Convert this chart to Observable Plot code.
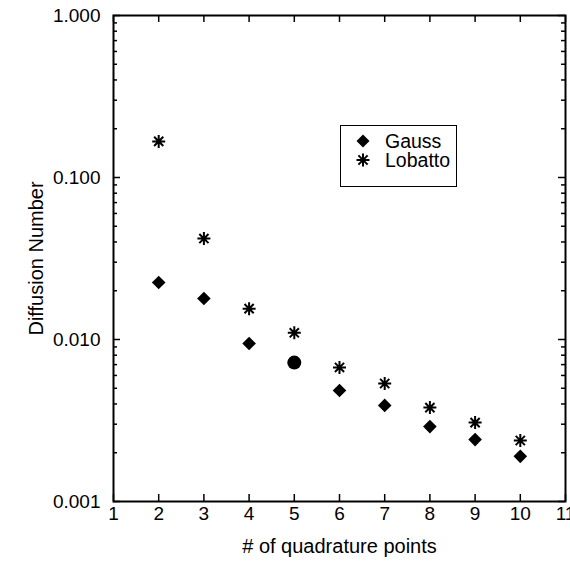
<!DOCTYPE html>
<html><head><meta charset="utf-8">
<script src="https://cdn.jsdelivr.net/npm/d3@7"></script>
<script src="https://cdn.jsdelivr.net/npm/@observablehq/plot@0.6"></script>
<style>
body{margin:0;background:#fff;font-family:"Liberation Sans",Arial,sans-serif;color:#000}
#chart{position:relative;width:570px;height:571px}
#legend{position:absolute;left:340px;top:125px;width:115px;height:60px;border:1.5px solid #000;background:#fff;font-size:19.5px;box-sizing:content-box}
#legend .lbl{position:absolute;display:block;left:44px;height:16px;line-height:16px;white-space:nowrap}
#legend svg{position:absolute;overflow:visible}
</style></head><body><div id="chart"></div>
<script>
// Data
const points  = [2, 3, 4, 5, 6, 7, 8, 9, 10];
const gauss   = [0.0225, 0.0179, 0.00945, 0.0072, 0.00484, 0.00392, 0.0029, 0.00241, 0.0019];
const lobatto = [0.167, 0.042, 0.0155, 0.0110, 0.00672, 0.00535, 0.0038, 0.00307, 0.00238];
const highlightPoint = 5; // Gauss point drawn as a circle
const xTicks = [1, 2, 3, 4, 5, 6, 7, 8, 9, 10, 11];
const yTicks = [0.001, 0.01, 0.1, 1];
const xLabel = "# of quadrature points";
const yLabel = "Diffusion Number";
const seriesNames = ["Gauss", "Lobatto"];

const gaussData = points.map((x, i) => ({x, y: gauss[i]}));
const lobattoData = points.map((x, i) => ({x, y: lobatto[i]}));
const yMinor = d3.scaleLog().domain([0.001, 1]).ticks().filter(v => !yTicks.some(t => Math.abs(t - v) < t * 1e-6));

const W = 570, H = 571, mL = 113, mR = 5, mT = 15, mB = 70;
const fW = W - mL - mR, fH = H - mT - mB;

const diamondSym = {draw(ctx, size) { const r = Math.sqrt(size / Math.PI); ctx.moveTo(0, -r); ctx.lineTo(r, 0); ctx.lineTo(0, r); ctx.lineTo(-r, 0); ctx.closePath(); }};
const asteriskSym = {draw(ctx, size) { const r = Math.sqrt(size / Math.PI); const d = r * Math.SQRT1_2;
  ctx.moveTo(0, -r); ctx.lineTo(0, r); ctx.moveTo(-r, 0); ctx.lineTo(r, 0);
  ctx.moveTo(-d, -d); ctx.lineTo(d, d); ctx.moveTo(-d, d); ctx.lineTo(d, -d); }};

const plot = Plot.plot({
  width: W, height: H,
  marginLeft: mL, marginRight: mR, marginTop: mT, marginBottom: mB,
  style: {fontFamily: "Liberation Sans, Arial, sans-serif", color: "#000", background: "#fff"},
  x: {domain: [1, 11]},
  y: {type: "log", domain: [0.001, 1]},
  marks: [
    Plot.axisX({ticks: xTicks, tickSize: 0, tickPadding: 5, tickFormat: d => String(d), fontSize: 19, label: null}),
    Plot.axisY({ticks: yTicks, tickSize: 0, tickPadding: 13, tickFormat: d3.format(".3f"), fontSize: 19, label: null}),
    Plot.tickX(xTicks, {x: d => d, insetTop: fH - 7, strokeWidth: 1.5}),
    Plot.tickX(xTicks, {x: d => d, insetBottom: fH - 7, strokeWidth: 1.5}),
    Plot.tickY(yTicks, {y: d => d, insetRight: fW - 7, strokeWidth: 1.5}),
    Plot.tickY(yMinor, {y: d => d, insetRight: fW - 4, strokeWidth: 1.5}),
    Plot.tickY(yTicks, {y: d => d, insetLeft: fW - 7, strokeWidth: 1.5}),
    Plot.tickY(yMinor, {y: d => d, insetLeft: fW - 4, strokeWidth: 1.5}),
    Plot.frame({stroke: "#000", strokeWidth: 2}),
    Plot.text([xLabel], {frameAnchor: "bottom", dy: 51, fontSize: 20, fill: "#000"}),
    Plot.text([yLabel], {frameAnchor: "left", textAnchor: "middle", dx: -77, rotate: -90, fontSize: 20, fill: "#000"}),
    Plot.dot(lobattoData, {x: "x", y: "y", symbol: asteriskSym, r: 6.5, stroke: "#000", strokeWidth: 2, fill: "none"}),
    Plot.dot(gaussData, {x: "x", y: "y", filter: d => d.x !== highlightPoint, symbol: diamondSym, r: 6.8, fill: "#000", stroke: "none"}),
    Plot.dot(gaussData, {x: "x", y: "y", filter: d => d.x === highlightPoint, symbol: "circle", r: 7, fill: "#000", stroke: "none"})
  ]
});
const chart = document.getElementById("chart");
chart.appendChild(plot);

const legend = document.createElement("div");
legend.id = "legend";
legend.innerHTML =
  `<svg style="left:22px;top:15px" width="1" height="1"><path d="M0,-6.5L6.5,0L0,6.5L-6.5,0Z" fill="#000"/></svg>` +
  `<span class="lbl" style="top:7px">${seriesNames[0]}</span>` +
  `<svg style="left:22px;top:34px" width="1" height="1"><path d="M0,-6.5V6.5M-6.5,0H6.5M-4.6,-4.6L4.6,4.6M-4.6,4.6L4.6,-4.6" stroke="#000" stroke-width="2" fill="none"/></svg>` +
  `<span class="lbl" style="top:26px">${seriesNames[1]}</span>`;
chart.appendChild(legend);
</script></body></html>
